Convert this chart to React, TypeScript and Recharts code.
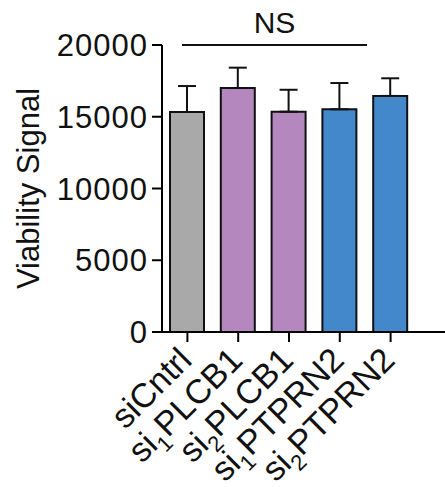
import { BarChart, Bar, XAxis, YAxis, Cell, ErrorBar } from 'recharts';

const GROUPS = ['siCntrl', 'si1PLCB1', 'si2PLCB1', 'si1PTPRN2', 'si2PTPRN2'];
const PREFIX = ['siCntrl', 'si', 'si', 'si', 'si'];
const SUBSCRIPT = ['', '1', '2', '1', '2'];
const GENE = ['', 'PLCB1', 'PLCB1', 'PTPRN2', 'PTPRN2'];
const MEANS = [15330, 17000, 15350, 15520, 16450];
const SD = [1810, 1420, 1530, 1830, 1230];
const COLORS = ['#a9a9a9', '#b487bf', '#b487bf', '#4388cb', '#4388cb'];
const Y_TICKS = [0, 5000, 10000, 15000, 20000];

const FONT = '"Liberation Sans", Arial, sans-serif';

const chartData = GROUPS.map((name, i) => ({
  name,
  value: MEANS[i],
  err: [0, SD[i]],
}));

function GroupTick({ x, y, payload }: any) {
  const i = payload.index;
  return (
    <g transform={`translate(${x - 1},${y + 11}) rotate(-45)`}>
      <text textAnchor="end" fontSize={34} fontFamily={FONT} fill="#111" dy={10}>
        <tspan>{PREFIX[i]}</tspan>
        {SUBSCRIPT[i] && (
          <tspan fontSize={22} dy={9}>{SUBSCRIPT[i]}</tspan>
        )}
        {GENE[i] && <tspan dy={-9}>{GENE[i]}</tspan>}
      </text>
    </g>
  );
}

function YLabel({ viewBox }: any) {
  const cx = 39;
  const cy = viewBox.y + viewBox.height / 2;
  return (
    <text
      transform={`rotate(-90, ${cx}, ${cy})`}
      x={cx}
      y={cy}
      textAnchor="middle"
      fontSize={31}
      fontFamily={FONT}
      fill="#111"
    >
      Viability Signal
    </text>
  );
}

export default function App() {
  return (
    <div style={{ position: 'absolute', left: 0, top: 0, width: 445, height: 487, background: '#fff' }}>
      <BarChart
        width={445}
        height={487}
        data={chartData}
        margin={{ top: 45, right: 0, bottom: 0, left: 0 }}
        barSize={34}
      >
        <XAxis
          dataKey="name"
          height={155}
          padding={{ left: 0, right: 29 }}
          axisLine={{ stroke: '#000', strokeWidth: 2 }}
          tickLine={{ stroke: '#000', strokeWidth: 2 }}
          tickSize={10}
          interval={0}
          tick={<GroupTick />}
        />
        <YAxis
          width={162}
          domain={[0, 20000]}
          ticks={Y_TICKS}
          interval={0}
          axisLine={{ stroke: '#000', strokeWidth: 2 }}
          tickLine={{ stroke: '#000', strokeWidth: 2 }}
          tickSize={10}
          tickMargin={4}
          tick={{ fill: '#111', fontSize: 31, fontFamily: FONT, letterSpacing: 1 }}
          label={<YLabel />}
        />
        <Bar dataKey="value" stroke="#111" strokeWidth={2} isAnimationActive={false}>
          {chartData.map((_d, i) => (
            <Cell key={`cell-${i}`} fill={COLORS[i]} />
          ))}
          <ErrorBar dataKey="err" width={9} stroke="#111" strokeWidth={2} direction="y" isAnimationActive={false} />
        </Bar>
      </BarChart>
      <div
        style={{
          position: 'absolute',
          left: 182,
          top: 44,
          width: 185,
          height: 2,
          background: '#111',
        }}
      />
      <div
        style={{
          position: 'absolute',
          left: 182,
          width: 185,
          top: 6,
          textAlign: 'center',
          fontSize: 30,
          fontFamily: FONT,
          color: '#111',
          lineHeight: '34px',
        }}
      >
        NS
      </div>
    </div>
  );
}
